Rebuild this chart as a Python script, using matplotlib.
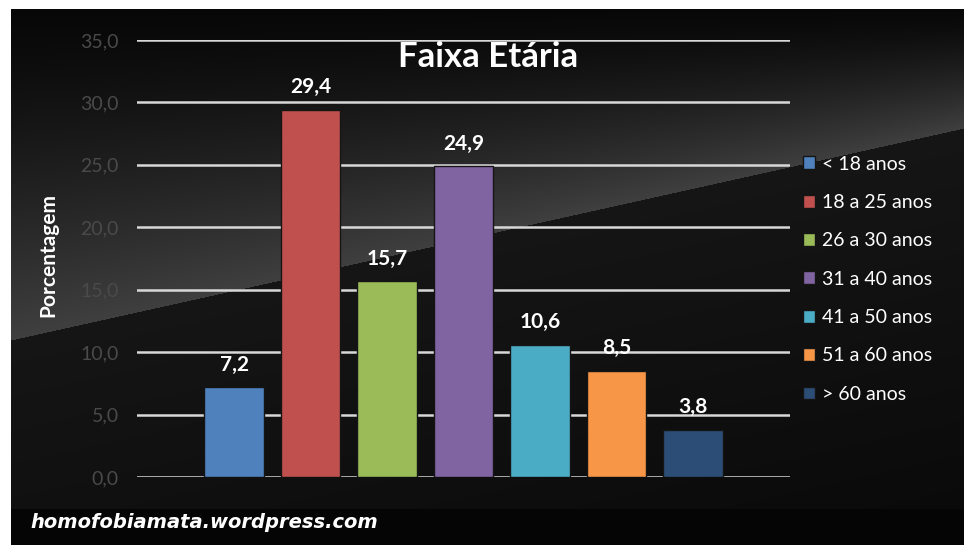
import numpy as np
import matplotlib.pyplot as plt
from matplotlib.patches import Patch

plt.rcParams['font.family'] = ['Lato', 'DejaVu Sans']

# data
faixas = ['< 18 anos', '18 a 25 anos', '26 a 30 anos', '31 a 40 anos',
          '41 a 50 anos', '51 a 60 anos', '> 60 anos']
valores = [7.2, 29.4, 15.7, 24.9, 10.6, 8.5, 3.8]
cores = ['#4f81bd', '#c0504d', '#9bbb59', '#8064a2',
         '#4bacc6', '#f79646', '#2c4d75']
yticks = [0, 5, 10, 15, 20, 25, 30, 35]

W, H = 964, 547
fig = plt.figure(figsize=(W / 100, H / 100), dpi=100)
fig.patch.set_facecolor('white')

# dark background with the diagonal lighter band
x0, x1, y0, y1 = 11, 964, 9, 545
bg = fig.add_axes([x0 / W, (H - y1) / H, (x1 - x0) / W, (y1 - y0) / H])
xs = np.arange(x0, x1)
ys = np.arange(y0, y1)
X, Y = np.meshgrid(xs, ys)
line = 340 + (128 - 340) * (X - 11) / (964 - 11)
val = np.where(Y < line, 0.03 + 0.22 * np.clip((Y - y0) / (line - y0 + 1), 0, 1) ** 1.3,
               0.085 - 0.035 * (Y - line) / 300)
val = np.where(Y > 508, 0.02, val)
img = np.dstack([val, val, val])
bg.imshow(img, extent=(x0, x1, y1, y0), aspect='auto')
bg.set_xlim(x0, x1)
bg.set_ylim(y1, y0)
bg.axis('off')

# main chart
ax = fig.add_axes([137 / W, (H - 477) / H, (790 - 137) / W, (477 - 40) / H])
ax.patch.set_alpha(0)
pos = np.arange(len(valores))
bars = ax.bar(pos, valores, width=0.78, color=cores, edgecolor='#151515',
              linewidth=1, zorder=3)
ax.set_xlim(-1.27, 7.27)
ax.set_ylim(0, 35)
ax.set_yticks(yticks)
ax.set_yticklabels([f'{v:.1f}'.replace('.', ',') for v in yticks],
                   color='#4a4a4a', fontsize=14)
ax.set_xticks([])
ax.tick_params(axis='y', length=0, pad=13)
ax.yaxis.grid(True, color='#d8d8d8', linewidth=1.8, zorder=0)
for s in ax.spines.values():
    s.set_visible(False)

for b, v in zip(bars, valores):
    ax.annotate(f'{v:.1f}'.replace('.', ','), (b.get_x() + b.get_width() / 2, v),
                xytext=(0, 9), textcoords='offset points', ha='center',
                va='bottom', color='white', fontsize=15, fontweight='bold')

fig.text(488 / W, 1 - 57 / H, 'Faixa Etária', color='white', fontsize=25,
         fontweight='bold', ha='center', va='center')
fig.text(48 / W, 1 - 255 / H, 'Porcentagem', color='white', fontsize=15,
         fontweight='bold', ha='center', va='center', rotation=90)

handles = [Patch(facecolor=c, edgecolor='#151515', linewidth=1) for c in cores]
leg = fig.legend(handles, faixas, loc='upper left',
                 bbox_to_anchor=(785 / W, 1 - 138 / H), frameon=False,
                 fontsize=14, labelcolor='white', handlelength=0.65,
                 handleheight=0.65, handletextpad=0.35, labelspacing=1.1)

fig.text(30 / W, 1 - 523 / H, 'homofobiamata.wordpress.com', color='white',
         fontsize=14, fontweight='heavy', style='italic', family='DejaVu Sans',
         ha='left', va='center')

fig.savefig('out.png', dpi=100, facecolor=fig.get_facecolor())
